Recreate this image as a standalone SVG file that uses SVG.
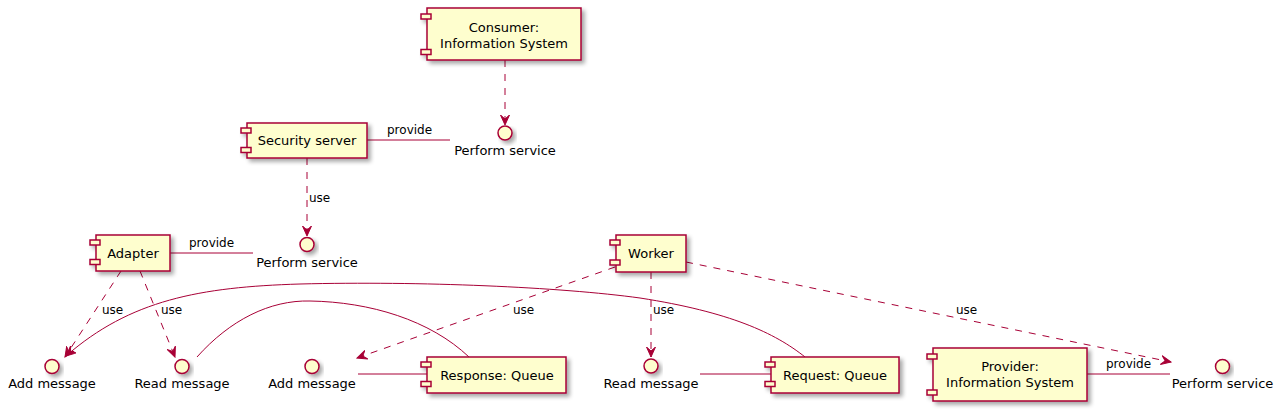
<svg xmlns="http://www.w3.org/2000/svg" width="1287" height="411" viewBox="0 0 1287 411">
<style>
.box{fill:#FEFECE;stroke:#A80036;stroke-width:1.5}
.ifc{fill:#FEFECE;stroke:#A80036;stroke-width:1.5}
.t{font-family:"DejaVu Sans",Verdana,sans-serif;font-size:13px;fill:#000;text-anchor:middle}
.el{font-family:"DejaVu Sans",Verdana,sans-serif;font-size:12px;fill:#000}
.ln{fill:none;stroke:#A80036;stroke-width:1}
.dash{stroke-dasharray:7,7}
.arr{marker-end:url(#ah)}
</style>
<defs>
<marker id="ah" markerUnits="userSpaceOnUse" viewBox="0 0 11 10" refX="10" refY="5" markerWidth="11" markerHeight="10" orient="auto">
<path d="M0,0.5 L10,5 L0,9.5 L4,5 Z" fill="#A80036" stroke="#A80036" stroke-width="1"/>
</marker>
<filter id="sh" x="-20%" y="-20%" width="150%" height="160%">
<feGaussianBlur in="SourceAlpha" stdDeviation="2"/>
<feOffset dx="3" dy="3" result="o"/>
<feComponentTransfer><feFuncA type="linear" slope="0.35"/></feComponentTransfer>
<feMerge><feMergeNode/><feMergeNode in="SourceGraphic"/></feMerge>
</filter>
</defs>

<g id="connectors">
<line class="ln dash arr" x1="505" y1="60" x2="505" y2="125"/>
<line class="ln" x1="367" y1="140" x2="450" y2="140"/>
<text class="el" x="387" y="134">provide</text>
<line class="ln dash arr" x1="307" y1="158" x2="307" y2="236"/>
<text class="el" x="309" y="202">use</text>
<line class="ln" x1="170" y1="253" x2="253" y2="253"/>
<text class="el" x="189" y="247">provide</text>
<line class="ln dash arr" x1="121" y1="271" x2="65" y2="357"/>
<text class="el" x="102" y="314">use</text>
<line class="ln dash arr" x1="140" y1="271" x2="175" y2="357"/>
<text class="el" x="161" y="314">use</text>
<path class="ln arr" d="M805,357 C775,333 730,312 640,298 C560,287 420,281 300,284 C200,287 130,300 66,356"/>
<path class="ln" d="M197,357 C230,320 270,300 310,301 C370,302 430,320 469,357"/>
<line class="ln" x1="358" y1="374" x2="427" y2="374"/>
<line class="ln dash arr" x1="615" y1="267" x2="357" y2="358"/>
<text class="el" x="513" y="314">use</text>
<line class="ln dash arr" x1="651" y1="272" x2="651" y2="357"/>
<text class="el" x="653" y="314">use</text>
<line class="ln dash arr" x1="686" y1="262" x2="1171" y2="362"/>
<text class="el" x="956" y="314">use</text>
<line class="ln" x1="700" y1="374" x2="771" y2="374"/>
<line class="ln" x1="1087" y1="374" x2="1170" y2="374"/>
<text class="el" x="1106" y="368">provide</text>
</g>

<g id="consumer">
<g filter="url(#sh)"><rect class="box" x="427" y="8" width="154" height="52"/>
<rect class="box" x="421" y="14" width="10" height="5"/>
<rect class="box" x="421" y="49.5" width="10" height="5"/></g>
<text class="t" x="504" y="32">Consumer:</text>
<text class="t" x="504" y="48">Information System</text>
</g>

<g id="ps1">
<circle class="ifc" cx="505" cy="133" r="7" filter="url(#sh)"/>
<text class="t" x="505" y="155">Perform service</text>
</g>

<g id="security">
<g filter="url(#sh)"><rect class="box" x="247" y="123" width="120" height="35"/>
<rect class="box" x="241" y="128" width="10" height="5"/>
<rect class="box" x="241" y="147.5" width="10" height="5"/></g>
<text class="t" x="307" y="145">Security server</text>
</g>

<g id="ps2">
<circle class="ifc" cx="307" cy="244.5" r="7" filter="url(#sh)"/>
<text class="t" x="307" y="267">Perform service</text>
</g>

<g id="adapter">
<g filter="url(#sh)"><rect class="box" x="96" y="235" width="74" height="36"/>
<rect class="box" x="90" y="240" width="10" height="5"/>
<rect class="box" x="90" y="259.5" width="10" height="5"/></g>
<text class="t" x="133" y="258">Adapter</text>
</g>

<g id="addmsg1">
<circle class="ifc" cx="52" cy="366.5" r="7" filter="url(#sh)"/>
<text class="t" x="52" y="388">Add message</text>
</g>

<g id="readmsg1">
<circle class="ifc" cx="182" cy="366.5" r="7" filter="url(#sh)"/>
<text class="t" x="182" y="388">Read message</text>
</g>

<g id="addmsg2">
<circle class="ifc" cx="312" cy="366.5" r="7" filter="url(#sh)"/>
<text class="t" x="312" y="388">Add message</text>
</g>

<g id="response">
<g filter="url(#sh)"><rect class="box" x="427" y="357" width="139" height="36"/>
<rect class="box" x="421" y="362" width="10" height="5"/>
<rect class="box" x="421" y="381.5" width="10" height="5"/></g>
<text class="t" x="497" y="380">Response: Queue</text>
</g>

<g id="worker">
<g filter="url(#sh)"><rect class="box" x="616" y="235" width="70" height="37"/>
<rect class="box" x="610" y="240" width="10" height="5"/>
<rect class="box" x="610" y="260" width="10" height="5"/></g>
<text class="t" x="651" y="258">Worker</text>
</g>

<g id="readmsg2">
<circle class="ifc" cx="651" cy="366" r="7" filter="url(#sh)"/>
<text class="t" x="651" y="388">Read message</text>
</g>

<g id="request">
<g filter="url(#sh)"><rect class="box" x="771" y="357" width="128" height="36"/>
<rect class="box" x="765" y="362" width="10" height="5"/>
<rect class="box" x="765" y="381.5" width="10" height="5"/></g>
<text class="t" x="835" y="380">Request: Queue</text>
</g>

<g id="provider">
<g filter="url(#sh)"><rect class="box" x="933" y="348" width="154" height="53"/>
<rect class="box" x="927" y="354" width="10" height="5"/>
<rect class="box" x="927" y="390" width="10" height="5"/></g>
<text class="t" x="1010" y="371">Provider:</text>
<text class="t" x="1010" y="387">Information System</text>
</g>

<g id="ps3">
<circle class="ifc" cx="1222.5" cy="366.5" r="7" filter="url(#sh)"/>
<text class="t" x="1222.5" y="387.5">Perform service</text>
</g>
</svg>
